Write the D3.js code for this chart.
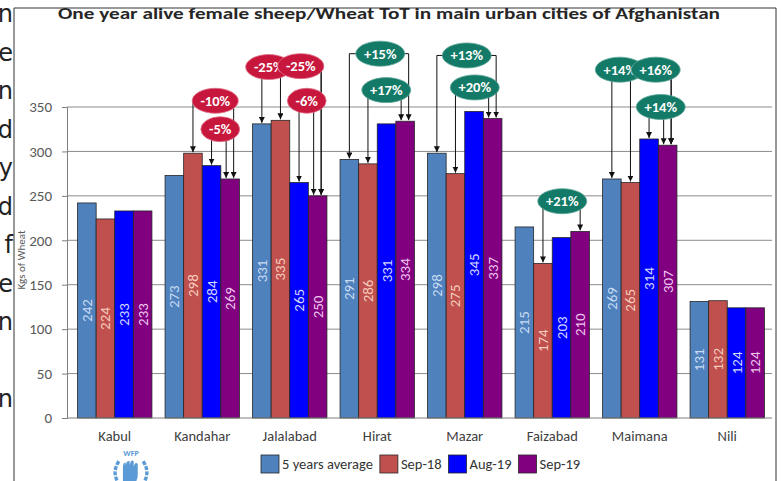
<!DOCTYPE html>
<html>
<head>
<meta charset="utf-8">
<script src="https://cdn.jsdelivr.net/npm/d3@7"></script>
<style>
  body { margin: 0; background: #fff; }
  svg { display: block; font-family: Carlito, Calibri, Lato, "Open Sans", sans-serif; }
</style>
</head>
<body>
<svg></svg>
<script>
const width = 782;
const height = 481;

// data
const cities = ["Kabul", "Kandahar", "Jalalabad", "Hirat", "Mazar", "Faizabad", "Maimana", "Nili"];
const seriesNames = ["5 years average", "Sep-18", "Aug-19", "Sep-19"];
const avg5 = [242, 273, 331, 291, 298, 215, 269, 131];
const sep18 = [224, 298, 335, 286, 275, 174, 265, 132];
const aug19 = [233, 284, 265, 331, 345, 203, 314, 124];
const sep19 = [233, 269, 250, 334, 337, 210, 307, 124];
const yTicks = [0, 50, 100, 150, 200, 250, 300, 350];

// change callouts: Sep-19 compared with another series
const calloutCity = ["Kandahar", "Kandahar", "Jalalabad", "Jalalabad", "Jalalabad", "Hirat", "Hirat",
    "Mazar", "Mazar", "Faizabad", "Maimana", "Maimana", "Maimana"];
const calloutBase = ["Sep-18", "Aug-19", "5 years average", "Sep-18", "Aug-19", "5 years average", "Sep-18",
    "5 years average", "Sep-18", "Sep-18", "5 years average", "Sep-18", "Aug-19"];
const calloutLabel = ["-10%", "-5%", "-25%", "-25%", "-6%", "+15%", "+17%",
    "+13%", "+20%", "+21%", "+14%", "+16%", "+14%"];

// where the bubbles sit: [px from group centre, level in kg]
const calloutPlace = [[13, 357], [18, 325], [-21, 395], [11, 396], [17, 357], [3, 410], [9, 369],
    [2, 408], [10, 372], [10, 244], [-20, 392], [16, 392], [21, 350]];

const colors = ["#4F81BD", "#C0504D", "#0000FF", "#800080"];
const labelColors = ["#C9DCF3", "#F6CDBE", "#D2DAFF", "#F0C6EE"];

const values = [avg5, sep18, aug19, sep19];
const rows = cities.map((c, i) => ({ city: c, vals: values.map(v => v[i]) }));

const svg = d3.select("svg")
    .attr("width", width)
    .attr("height", height);

// left page fragment (text cut off by the crop)
const leftLetters = ["n", "e", "n", "d", "y", "d", "f", "e", "n", "", "n"];
svg.append("g")
    .selectAll("text")
    .data(leftLetters)
    .join("text")
    .attr("x", 13)
    .attr("y", (d, i) => 22 + i * 38.5)
    .attr("text-anchor", "end")
    .attr("font-family", "'DejaVu Sans', sans-serif")
    .attr("font-size", 24)
    .attr("fill", "#222")
    .text(d => d);

// frame
svg.append("path")
    .attr("d", "M14,481 V8 H776 V481")
    .attr("fill", "none")
    .attr("stroke", "#333")
    .attr("stroke-width", 1);

svg.append("text")
    .attr("x", 58)
    .attr("y", 19)
    .attr("font-size", 16.5)
    .attr("font-weight", "bold")
    .attr("fill", "#262626")
    .attr("textLength", 662)
    .attr("lengthAdjust", "spacingAndGlyphs")
    .text("One year alive female sheep/Wheat ToT in main urban cities of Afghanistan");

const x0 = d3.scaleBand()
    .domain(cities)
    .range([71, 771])
    .paddingInner(0.15)
    .paddingOuter(0.075);

const x1 = d3.scaleBand()
    .domain(seriesNames)
    .range([0, x0.bandwidth()]);

const y = d3.scaleLinear()
    .domain([0, 350])
    .range([418, 107]);

// grid
svg.append("g")
    .selectAll("line")
    .data(yTicks.slice(1))
    .join("line")
    .attr("x1", 67).attr("x2", 772)
    .attr("y1", d => y(d)).attr("y2", d => y(d))
    .attr("stroke", "#8c8c8c")
    .attr("stroke-width", 1);

// y axis
const yAxis = svg.append("g")
    .attr("transform", "translate(67,0)")
    .call(d3.axisLeft(y).tickValues(yTicks).tickSize(5).tickPadding(10));
yAxis.select(".domain").attr("stroke", "#7f7f7f");
yAxis.selectAll(".tick line").attr("stroke", "#7f7f7f");
yAxis.selectAll(".tick text")
    .attr("font-size", 15)
    .attr("font-family", "Carlito, Calibri, Lato, sans-serif")
    .attr("fill", "#595959");

svg.append("text")
    .attr("transform", "translate(21,260) rotate(-90)")
    .attr("text-anchor", "middle")
    .attr("dominant-baseline", "central")
    .attr("font-size", 11)
    .attr("fill", "#595959")
    .text("Kgs of Wheat");

// bars
const groups = svg.append("g")
    .selectAll("g")
    .data(rows)
    .join("g")
    .attr("transform", d => `translate(${x0(d.city)},0)`);

groups.selectAll("rect")
    .data(d => d.vals.map((v, i) => ({ key: seriesNames[i], v, i })))
    .join("rect")
    .attr("x", d => x1(d.key))
    .attr("y", d => y(d.v))
    .attr("width", x1.bandwidth())
    .attr("height", d => y(0) - y(d.v))
    .attr("fill", d => colors[d.i])
    .attr("stroke", "#262626")
    .attr("stroke-width", 0.8);

groups.selectAll("text")
    .data(d => d.vals.map((v, i) => ({ key: seriesNames[i], v, i })))
    .join("text")
    .attr("transform", d => `translate(${x1(d.key) + x1.bandwidth() / 2},${(y(d.v) + y(0)) / 2}) rotate(-90)`)
    .attr("text-anchor", "middle")
    .attr("dominant-baseline", "central")
    .attr("font-size", 15)
    .attr("fill", d => labelColors[d.i])
    .text(d => d.v);

// x baseline and category labels
svg.append("line")
    .attr("x1", 67).attr("x2", 772)
    .attr("y1", y(0)).attr("y2", y(0))
    .attr("stroke", "#7f7f7f");

svg.append("g")
    .selectAll("text")
    .data(cities)
    .join("text")
    .attr("x", d => x0(d) + x0.bandwidth() / 2)
    .attr("y", 436)
    .attr("text-anchor", "middle")
    .attr("dominant-baseline", "central")
    .attr("font-size", 14.5)
    .attr("fill", "#404040")
    .text(d => d);

// callouts
svg.append("defs").append("marker")
    .attr("id", "arrow")
    .attr("viewBox", "0 0 6 6")
    .attr("refX", 6).attr("refY", 3)
    .attr("markerWidth", 6).attr("markerHeight", 6)
    .attr("markerUnits", "userSpaceOnUse")
    .attr("orient", "auto")
    .append("path")
    .attr("d", "M0,0 L6,3 L0,6 Z")
    .attr("fill", "#111");

const callouts = calloutLabel.map((label, k) => {
    const city = calloutCity[k];
    const ci = cities.indexOf(city);
    const bi = seriesNames.indexOf(calloutBase[k]);
    const same = calloutCity.map((c, j) => j).filter(j => calloutCity[j] === city);
    let shift = 0;
    if (same.length > 1) shift = (k === same[same.length - 1]) ? -4 : 3.5;
    const gx = x0(city);
    return {
        label,
        cx: gx + x0.bandwidth() / 2 + calloutPlace[k][0],
        cy: y(calloutPlace[k][1]),
        fromX: gx + x1(seriesNames[bi]) + x1.bandwidth() / 2,
        fromY: y(values[bi][ci]) - 1,
        toX: gx + x1("Sep-19") + x1.bandwidth() / 2 + shift,
        toY: y(sep19[ci]) - 1,
        up: !label.startsWith("-")
    };
});

const lineLayer = svg.append("g");
callouts.forEach(c => {
    lineLayer.append("path")
        .attr("d", `M${c.cx},${c.cy} H${c.fromX} V${c.fromY}`)
        .attr("fill", "none").attr("stroke", "#111").attr("stroke-width", 1)
        .attr("marker-end", "url(#arrow)");
    lineLayer.append("path")
        .attr("d", `M${c.cx},${c.cy} H${c.toX} V${c.toY}`)
        .attr("fill", "none").attr("stroke", "#111").attr("stroke-width", 1)
        .attr("marker-end", "url(#arrow)");
});

const bubbleLayer = svg.append("g");
callouts.forEach(c => {
    const g = bubbleLayer.append("g");
    const el = g.append("ellipse")
        .attr("cx", c.cx).attr("cy", c.cy)
        .attr("ry", 12.5)
        .attr("fill", c.up ? "#127A66" : "#C8173D")
        .attr("stroke", c.up ? "#5aa596" : "#e07088")
        .attr("stroke-width", 0.8);
    const t = g.append("text")
        .attr("x", c.cx).attr("y", c.cy)
        .attr("text-anchor", "middle")
        .attr("dominant-baseline", "central")
        .attr("font-size", 14.5)
        .attr("font-weight", "bold")
        .attr("fill", "#fff")
        .text(c.label);
    el.attr("rx", t.node().getBBox().width / 2 + 8);
});

// legend
const legend = svg.append("g").attr("transform", "translate(261,464)");
let lx = 0;
seriesNames.forEach((name, i) => {
    legend.append("rect")
        .attr("x", lx).attr("y", -9)
        .attr("width", 18).attr("height", 18)
        .attr("fill", colors[i])
        .attr("stroke", "#262626").attr("stroke-width", 0.8);
    const t = legend.append("text")
        .attr("x", lx + 21).attr("y", 0)
        .attr("dominant-baseline", "central")
        .attr("font-size", 14.5)
        .attr("fill", "#333")
        .text(name);
    lx += 21 + t.node().getComputedTextLength() + 7;
});

// WFP emblem (simplified)
const logo = svg.append("g").attr("transform", "translate(131,468) scale(1.35)").attr("fill", "#5b9bd5");
logo.append("text")
    .attr("y", -9)
    .attr("text-anchor", "middle")
    .attr("font-size", 6)
    .attr("font-weight", "bold")
    .text("WFP");
logo.append("path")
    .attr("d", "M-9,-5 Q-15,4 -8,13 M9,-5 Q15,4 8,13")
    .attr("fill", "none").attr("stroke", "#5b9bd5").attr("stroke-width", 2.5)
    .attr("stroke-dasharray", "3,1");
logo.append("path")
    .attr("d", "M-6,13 V0 Q-6,-4 -4,-4 V-2 Q-3,-6 -1,-5 V-2 Q0,-7 2,-5 V-1 Q3,-5 5,-3 V5 Q5,11 0,13 Z");
</script>
</body>
</html>
